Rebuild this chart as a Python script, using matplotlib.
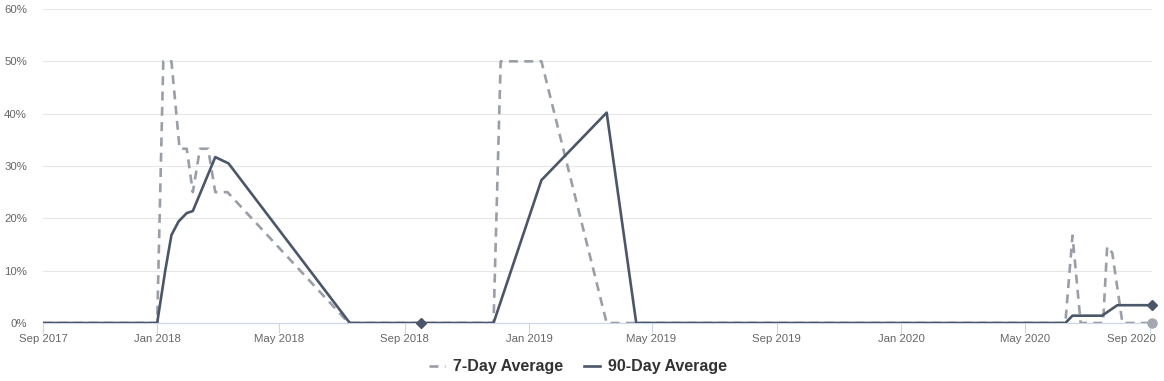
import matplotlib
matplotlib.use("Agg")
import matplotlib.pyplot as plt
import matplotlib.transforms as mtransforms
import pandas as pd

# ---- data ----
d7_dates = ['2017-09-11', '2018-01-01', '2018-01-07', '2018-01-15', '2018-01-23',
            '2018-01-30', '2018-02-05', '2018-02-12', '2018-02-20', '2018-02-27',
            '2018-03-11', '2018-07-08', '2018-11-27', '2018-12-04', '2019-01-13',
            '2019-03-18', '2019-04-16', '2020-06-10', '2020-06-17', '2020-06-25',
            '2020-07-17', '2020-07-21', '2020-07-26', '2020-08-05', '2020-09-03']
d7_values = [0, 0, 50, 50, 33.3, 33.3, 25, 33.3, 33.3, 25, 25, 0, 0, 50, 50,
             0, 0, 0, 16.7, 0, 0, 14.6, 13.4, 0, 0]

d90_dates = ['2017-09-11', '2018-01-01', '2018-01-09', '2018-01-15', '2018-01-22',
             '2018-01-30', '2018-02-05', '2018-02-27', '2018-03-12', '2018-07-09',
             '2018-09-17', '2018-11-27', '2019-01-13', '2019-03-18', '2019-04-16',
             '2020-06-10', '2020-06-17', '2020-07-16', '2020-07-31', '2020-09-03']
d90_values = [0, 0, 10.1, 16.8, 19.4, 21, 21.4, 31.7, 30.5, 0, 0, 0, 27.3, 40.2,
              0, 0, 1.4, 1.4, 3.4, 3.4]
d90_marker_date = '2018-09-17'

tick_dates = ['2017-09-11', '2018-01-01', '2018-05-01', '2018-09-01', '2019-01-01',
              '2019-05-01', '2019-09-01', '2020-01-01', '2020-05-01', '2020-09-01']
tick_labels = ['Sep 2017', 'Jan 2018', 'May 2018', 'Sep 2018', 'Jan 2019',
               'May 2019', 'Sep 2019', 'Jan 2020', 'May 2020', 'Sep 2020']
y_ticks = [0, 10, 20, 30, 40, 50, 60]
series_names = ['7-Day Average', '90-Day Average']

# ---- figure ----
plt.rcParams['font.family'] = ['Liberation Sans', 'DejaVu Sans']
W, H = 1164, 381
fig = plt.figure(figsize=(W / 100, H / 100), dpi=100)
ax = fig.add_axes([43 / W, 58 / H, (1152 - 43) / W, (323 - 9) / H])

c7 = '#9a9fa7'
c90 = '#4b5768'

x7 = pd.to_datetime(d7_dates)
x90 = pd.to_datetime(d90_dates)

ax.plot(x7, d7_values, color=c7, lw=1.9, linestyle=(0, (3.4, 2.4)),
        label=series_names[0], zorder=3)
ax.plot(x90, d90_values, color=c90, lw=1.9, label=series_names[1], zorder=4,
        solid_joinstyle='round')

# markers
ax.plot([x7[-1]], [d7_values[-1]], 'o', color='#a3a7ae', ms=6.5, zorder=5, clip_on=False)
ax.plot([x90[-1]], [d90_values[-1]], 'D', color=c90, ms=5, zorder=6, clip_on=False)
mi = d90_dates.index(d90_marker_date)
ax.plot([x90[mi]], [d90_values[mi]], 'D', color=c90, ms=5, zorder=6, clip_on=False)

ax.set_xlim(pd.Timestamp(d7_dates[0]), pd.Timestamp(d7_dates[-1]))
ax.set_ylim(0, 60)

ax.set_yticks(y_ticks)
ax.set_yticklabels([f'{v}%' for v in y_ticks])
ax.set_xticks(pd.to_datetime(tick_dates))
ax.set_xticklabels(tick_labels)

ax.grid(axis='y', color='#e6e6e6', lw=0.8)
ax.set_axisbelow(True)
for s in ['top', 'right', 'left']:
    ax.spines[s].set_visible(False)
ax.spines['bottom'].set_color('#ccd6eb')
ax.spines['bottom'].set_linewidth(0.8)
ax.spines['bottom'].set_zorder(2)

ax.tick_params(axis='y', length=0, pad=11.5, labelsize=8.2, labelcolor='#666666')
ax.tick_params(axis='x', length=7, width=0.8, color='#ccd6eb', pad=1,
               labelsize=8.2, labelcolor='#666666')

# keep the last x label inside the figure
last = ax.get_xticklabels()[-1]
last.set_horizontalalignment('right')
last.set_transform(last.get_transform() +
                   mtransforms.ScaledTranslation(6 / 100, 0, fig.dpi_scale_trans))

leg = fig.legend(loc='center', bbox_to_anchor=(578 / W, 14 / H), ncol=2,
                 frameon=False, handlelength=1.0, handletextpad=0.45,
                 columnspacing=1.35, prop={'weight': 'bold', 'size': 11.5})
for t in leg.get_texts():
    t.set_color('#333333')

fig.savefig('out.png', dpi=100)
